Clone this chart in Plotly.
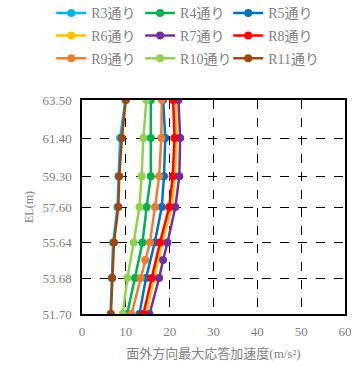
import plotly.graph_objects as go

EL = [51.70, 53.68, 55.64, 57.60, 59.30, 61.40, 63.50]
EL_EXTRA = [51.70, 53.68, 54.68, 55.64, 57.60, 59.30, 61.40, 63.50]
EL_TICKS = [51.70, 53.68, 55.64, 57.60, 59.30, 61.40, 63.50]
EL_TICK_LABELS = ["51.70", "53.68", "55.64", "57.60", "59.30", "61.40", "63.50"]

R3 = [6.5, 6.8, 7.1, 8.1, 8.3, 8.7, 9.9]
R4 = [10.3, 12.1, 13.8, 14.75, 15.7, 15.7, 15.7]
R5 = [13.1, 14.6, 16.6, 18.2, 18.7, 19.0, 18.5]
R6 = [14.6, 16.5, 18.3, 20.5, 21.2, 21.6, 21.4]
R7 = [15.4, 17.6, 18.5, 19.5, 21.3, 22.2, 22.4, 22.0]
R8 = [14.0, 15.9, 17.8, 19.9, 20.7, 21.1, 20.8]
R9 = [11.3, 13.4, 14.4, 15.5, 16.65, 17.6, 18.1, 18.2]
R10 = [9.3, 10.35, 11.8, 13.1, 13.6, 14.0, 14.7]
R11 = [6.6, 6.9, 7.3, 8.3, 8.5, 9.1, 10.0]

series = [
    ("R3通り", R3, EL, "#00B0F0"),
    ("R4通り", R4, EL, "#00B050"),
    ("R5通り", R5, EL, "#0070C0"),
    ("R6通り", R6, EL, "#FFC000"),
    ("R7通り", R7, EL_EXTRA, "#7030A0"),
    ("R8通り", R8, EL, "#FF0000"),
    ("R9通り", R9, EL_EXTRA, "#ED7D31"),
    ("R10通り", R10, EL, "#92D050"),
    ("R11通り", R11, EL, "#9E480E"),
]

FONT = "Liberation Serif, Noto Sans CJK JP, serif"
GRAY = "#7f7f7f"
LEGEND_IDS = ["legend", "legend2", "legend3"]

fig = go.Figure()
for i, (name, xs, ys, col) in enumerate(series):
    fig.add_trace(go.Scatter(
        x=xs, y=ys, name=name, mode="lines+markers",
        line=dict(color=col, width=2.5),
        marker=dict(color=col, size=8),
        legend=LEGEND_IDS[i % 3], legendgroup=name,
    ))

def leg(x):
    return dict(
        orientation="v", x=x, y=1.48, xanchor="left", yanchor="top",
        itemwidth=30, tracegroupgap=1.5, bgcolor="rgba(0,0,0,0)",
        font=dict(family=FONT, color=GRAY, size=14),
    )

fig.update_layout(
    width=355, height=367,
    margin=dict(l=82, r=10, t=100, b=53, autoexpand=False),
    paper_bgcolor="white", plot_bgcolor="white",
    font=dict(family=FONT, color=GRAY, size=13),
    showlegend=True,
    legend=leg(-0.117),
    legend2=leg(0.221),
    legend3=leg(0.556),
    xaxis=dict(
        range=[0, 60], tickvals=[0, 10, 20, 30, 40, 50, 60],
        showgrid=True, gridcolor="black", griddash="dash", gridwidth=1,
        showline=True, linecolor="black", linewidth=1.5, mirror=True,
        zeroline=False, ticks="", ticklabelstandoff=5,
        title=dict(text="面外方向最大応答加速度(m/s²)", font=dict(family=FONT, color=GRAY, size=13), standoff=11),
        tickfont=dict(family=FONT, color=GRAY, size=13),
    ),
    yaxis=dict(
        range=[51.70, 63.50], tickvals=EL_TICKS, ticktext=EL_TICK_LABELS,
        showgrid=True, gridcolor="black", griddash="dash", gridwidth=1,
        showline=True, linecolor="black", linewidth=1.5, mirror=True,
        zeroline=False, ticks="", ticklabelstandoff=6,
        title=dict(text="EL(m)", font=dict(family=FONT, color=GRAY, size=12), standoff=6),
        tickfont=dict(family=FONT, color=GRAY, size=13),
    ),
)

fig.write_html("out.html", config={"displayModeBar": False},
               post_script="document.body.style.margin='0';")
